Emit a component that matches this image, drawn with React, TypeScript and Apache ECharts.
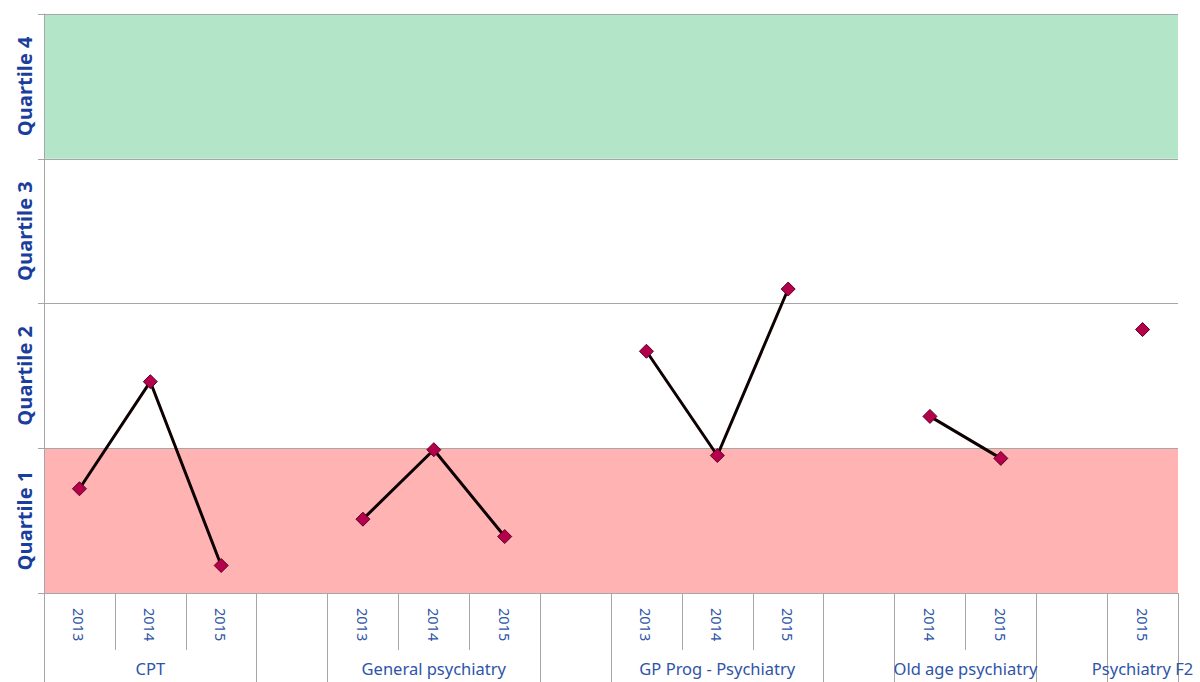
import React, { useEffect, useRef } from "react";
import * as echarts from "echarts";

const groupNames = ["CPT", "General psychiatry", "GP Prog - Psychiatry", "Old age psychiatry", "Psychiatry F2"];
const groupYears = [
  ["2013", "2014", "2015"],
  ["2013", "2014", "2015"],
  ["2013", "2014", "2015"],
  ["2014", "2015"],
  ["2015"],
];
const groupValues = [
  [0.72, 1.46, 0.19],
  [0.51, 0.99, 0.39],
  [1.67, 0.95, 2.1],
  [1.22, 0.93],
  [1.82],
];
const quartileLabels = ["Quartile 1", "Quartile 2", "Quartile 3", "Quartile 4"];

// Build slots: each group followed by a blank slot (except last)
const yearSlots: string[] = [];
const valueSlots: (number | null)[] = [];
const groupSlots: any[] = [];
const boundaryStarts: number[] = [];
groupNames.forEach((name, gi) => {
  const start = yearSlots.length;
  const n = groupYears[gi].length;
  boundaryStarts.push(start);
  groupYears[gi].forEach((y, k) => {
    yearSlots.push(y);
    valueSlots.push(groupValues[gi][k]);
    groupSlots.push("");
  });
  const mid = start + (n - 1) / 2;
  const idx = Math.floor(mid);
  if (mid === idx) {
    groupSlots[idx] = name;
  } else {
    groupSlots[idx] = { value: name, textStyle: { padding: [0, 0, 0, 71] } };
  }
  if (gi < groupNames.length - 1) {
    boundaryStarts.push(yearSlots.length);
    yearSlots.push("");
    valueSlots.push(null);
    groupSlots.push("");
  }
});

export default function App() {
  const ref = useRef<HTMLDivElement>(null);
  useEffect(() => {
    if (!ref.current) return;
    const chart = echarts.init(ref.current, null, { renderer: "svg" });
    const gray = "#A6A6A6";
    const blue = "#2E54A8";
    chart.setOption({
      animation: false,
      backgroundColor: "#ffffff",
      grid: { left: 44, right: 22, top: 14, bottom: 89, containLabel: false },
      xAxis: [
        {
          type: "category",
          data: yearSlots,
          boundaryGap: true,
          position: "bottom",
          axisLine: { show: true, lineStyle: { color: gray, width: 1 } },
          axisTick: { show: true, interval: 0, length: 57, lineStyle: { color: gray } },
          axisLabel: {
            interval: 0,
            rotate: -90,
            margin: 15,
            color: blue,
            fontFamily: "Noto Sans",
            fontSize: 14.5,
          },
          splitLine: { show: false },
        },
        {
          type: "category",
          data: groupSlots,
          boundaryGap: true,
          position: "bottom",
          offset: 0,
          axisLine: { show: false },
          axisTick: {
            show: true,
            interval: (i: number) => boundaryStarts.includes(i),
            length: 89,
            lineStyle: { color: gray },
          },
          axisLabel: {
            interval: 0,
            margin: 67,
            color: blue,
            fontFamily: "Noto Sans",
            fontSize: 16.5,
          },
          splitLine: { show: false },
        },
      ],
      yAxis: [
        {
          type: "value",
          min: 0,
          max: 4,
          interval: 1,
          axisLine: { show: true, lineStyle: { color: gray } },
          axisTick: { show: true, length: 6, lineStyle: { color: gray } },
          axisLabel: { show: false },
          splitLine: { show: true, lineStyle: { color: gray, width: 1 } },
          splitArea: {
            show: true,
            areaStyle: { color: ["#FFB3B3", "#ffffff", "#ffffff", "#B3E6C8"] },
          },
        },
        {
          type: "category",
          data: quartileLabels,
          position: "left",
          boundaryGap: true,
          axisLine: { show: false },
          axisTick: { show: false },
          splitLine: { show: false },
          axisLabel: {
            rotate: 90,
            margin: 10,
            color: "#1A3E9C",
            fontWeight: "bold",
            fontFamily: "Open Sans",
            fontSize: 20,
          },
        },
      ],
      series: [
        {
          type: "line",
          xAxisIndex: 0,
          yAxisIndex: 0,
          data: valueSlots,
          connectNulls: false,
          symbol: "diamond",
          symbolSize: 14,
          lineStyle: { color: "#0d0000", width: 3 },
          itemStyle: { color: "#B5004B", borderColor: "#5A0025", borderWidth: 1 },
          z: 5,
        },
      ],
    });
    return () => chart.dispose();
  }, []);
  return (
    <div
      ref={ref}
      style={{ position: "fixed", left: 0, top: 0, width: 1200, height: 682, background: "#fff" }}
    />
  );
}
